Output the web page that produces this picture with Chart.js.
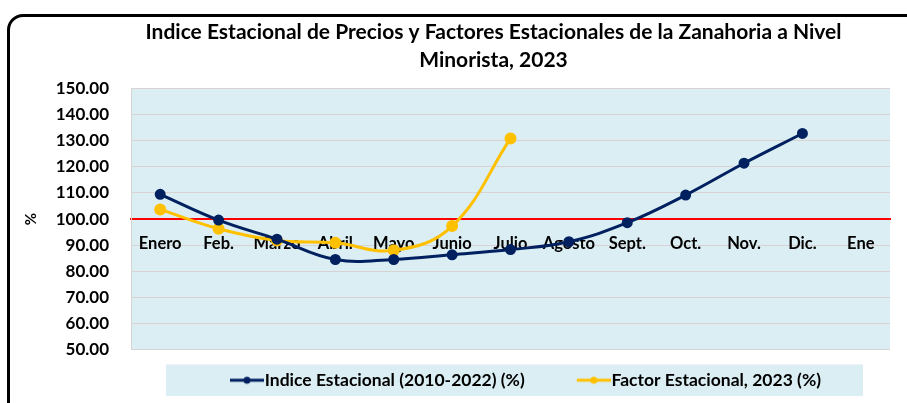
<!DOCTYPE html>
<html>
<head>
<meta charset="utf-8">
<script src="https://cdn.jsdelivr.net/npm/chart.js@4.4.0/dist/chart.umd.min.js"></script>
<style>
  html, body { margin: 0; padding: 0; background: #fff; overflow: hidden; }
  #frame { position: absolute; left: 7px; top: 14px; width: 1000px; height: 500px; border: 3px solid #000; border-radius: 16px; }
  #wrap { position: absolute; left: 0; top: 0; width: 907px; height: 403px; }
</style>
</head>
<body>
<div id="frame"></div>
<div id="wrap"><canvas id="myChart"></canvas></div>
<script>
// data
const months = ['Enero', 'Feb.', 'Marzo', 'Abril', 'Mayo', 'Junio', 'Julio', 'Agosto', 'Sept.', 'Oct.', 'Nov.', 'Dic.', 'Ene'];
const indiceValues = [109.5, 99.6, 92.3, 84.5, 84.5, 86.3, 88.3, 91.3, 98.6, 109.2, 121.4, 132.8, null];
const factorValues = [103.7, 96.3, 91.8, 90.9, 88.0, 97.3, 130.9, null, null, null, null, null, null];
const titleLines = ['Indice Estacional de Precios y Factores Estacionales de la Zanahoria a Nivel', 'Minorista, 2023'];
const indiceLabel = 'Indice Estacional (2010-2022) (%)';
const factorLabel = 'Factor Estacional, 2023 (%)';
const yMin = 50;
const yMax = 150;
const yStep = 10;
const baseLine = 100;

const navy = '#002060';
const gold = '#FFC000';
const paleBlue = '#DAEEF3';

// legend marker: short line with a dot, sitting at the right of the legend box
function legendMarker(color) {
  const c = document.createElement('canvas');
  c.width = 72;
  c.height = 10;
  const g = c.getContext('2d');
  g.strokeStyle = color;
  g.lineWidth = 3;
  g.beginPath();
  g.moveTo(38, 5);
  g.lineTo(72, 5);
  g.stroke();
  g.fillStyle = color;
  g.beginPath();
  g.arc(55, 5, 3.5, 0, Math.PI * 2);
  g.fill();
  return c;
}

const backgrounds = {
  id: 'backgrounds',
  afterLayout(chart) {
    // title sits a bit left of the plot centre in the original
    chart.titleBlock.left -= 17;
    chart.titleBlock.right -= 17;
  },
  beforeDraw(chart) {
    const {ctx, chartArea, legend} = chart;
    ctx.save();
    ctx.fillStyle = paleBlue;
    ctx.fillRect(chartArea.left, chartArea.top, chartArea.right - chartArea.left, chartArea.bottom - chartArea.top);
    ctx.fillRect(legend.left + 35, legend.top + 15, legend.right - legend.left - 62, legend.bottom - legend.top - 18);
    ctx.restore();
  }
};

const ctx = document.getElementById('myChart').getContext('2d');
const myChart = new Chart(ctx, {
  type: 'line',
  data: {
    labels: months,
    datasets: [{
      label: indiceLabel,
      data: indiceValues,
      borderColor: navy,
      backgroundColor: navy,
      borderWidth: 3,
      pointRadius: 4,
      tension: 0.4
    }, {
      label: factorLabel,
      data: factorValues,
      borderColor: gold,
      backgroundColor: gold,
      borderWidth: 3,
      pointRadius: 4.5,
      tension: 0.4
    }]
  },
  options: {
    responsive: true,
    maintainAspectRatio: false,
    animation: false,
    layout: { padding: { left: 18, right: 17, top: 4, bottom: 4 } },
    plugins: {
      title: {
        display: true,
        fullSize: false,
        text: titleLines,
        color: '#000',
        font: { family: 'Lato', size: 21, weight: 'bold', lineHeight: 1.3 },
        padding: { top: 15, bottom: 15 }
      },
      legend: {
        position: 'bottom',
        fullSize: false,
        labels: {
          usePointStyle: true,
          pointStyleWidth: 56,
          boxHeight: 10,
          padding: 22,
          color: '#000',
          font: { family: 'Lato', size: 17.5, weight: 'bold' },
          generateLabels(chart) {
            return chart.data.datasets.map((ds, i) => ({
              text: ds.label,
              pointStyle: legendMarker(ds.borderColor),
              fillStyle: ds.borderColor,
              strokeStyle: ds.borderColor,
              lineWidth: 0,
              fontColor: '#000',
              datasetIndex: i
            }));
          }
        }
      },
      tooltip: { enabled: false }
    },
    scales: {
      x: {
        type: 'category',
        position: { y: baseLine },
        offset: true,
        afterFit(scale) { scale.height = 0; },
        grid: { display: true, color: 'rgba(0,0,0,0)', drawTicks: false },
        border: { display: true, color: '#FF0000', width: 2 },
        ticks: {
          color: '#000',
          padding: 15,
          maxRotation: 0,
          autoSkip: false,
          font: { family: 'Lato', size: 16.5, weight: 'bold' }
        }
      },
      y: {
        min: yMin,
        max: yMax,
        afterFit(scale) { scale.width = 113; },
        grid: { color: '#D9D2D2', drawTicks: false },
        border: { display: true, color: '#D9D2D2' },
        title: {
          display: true,
          text: '%',
          color: '#000',
          font: { family: 'Lato', size: 15, weight: 'bold' },
          padding: { top: 4, bottom: 0 }
        },
        ticks: {
          stepSize: yStep,
          color: '#000',
          padding: 22,
          font: { family: 'Lato', size: 17, weight: 'bold' },
          callback: (v) => Number(v).toFixed(2)
        }
      }
    }
  },
  plugins: [backgrounds]
});
</script>
</body>
</html>
